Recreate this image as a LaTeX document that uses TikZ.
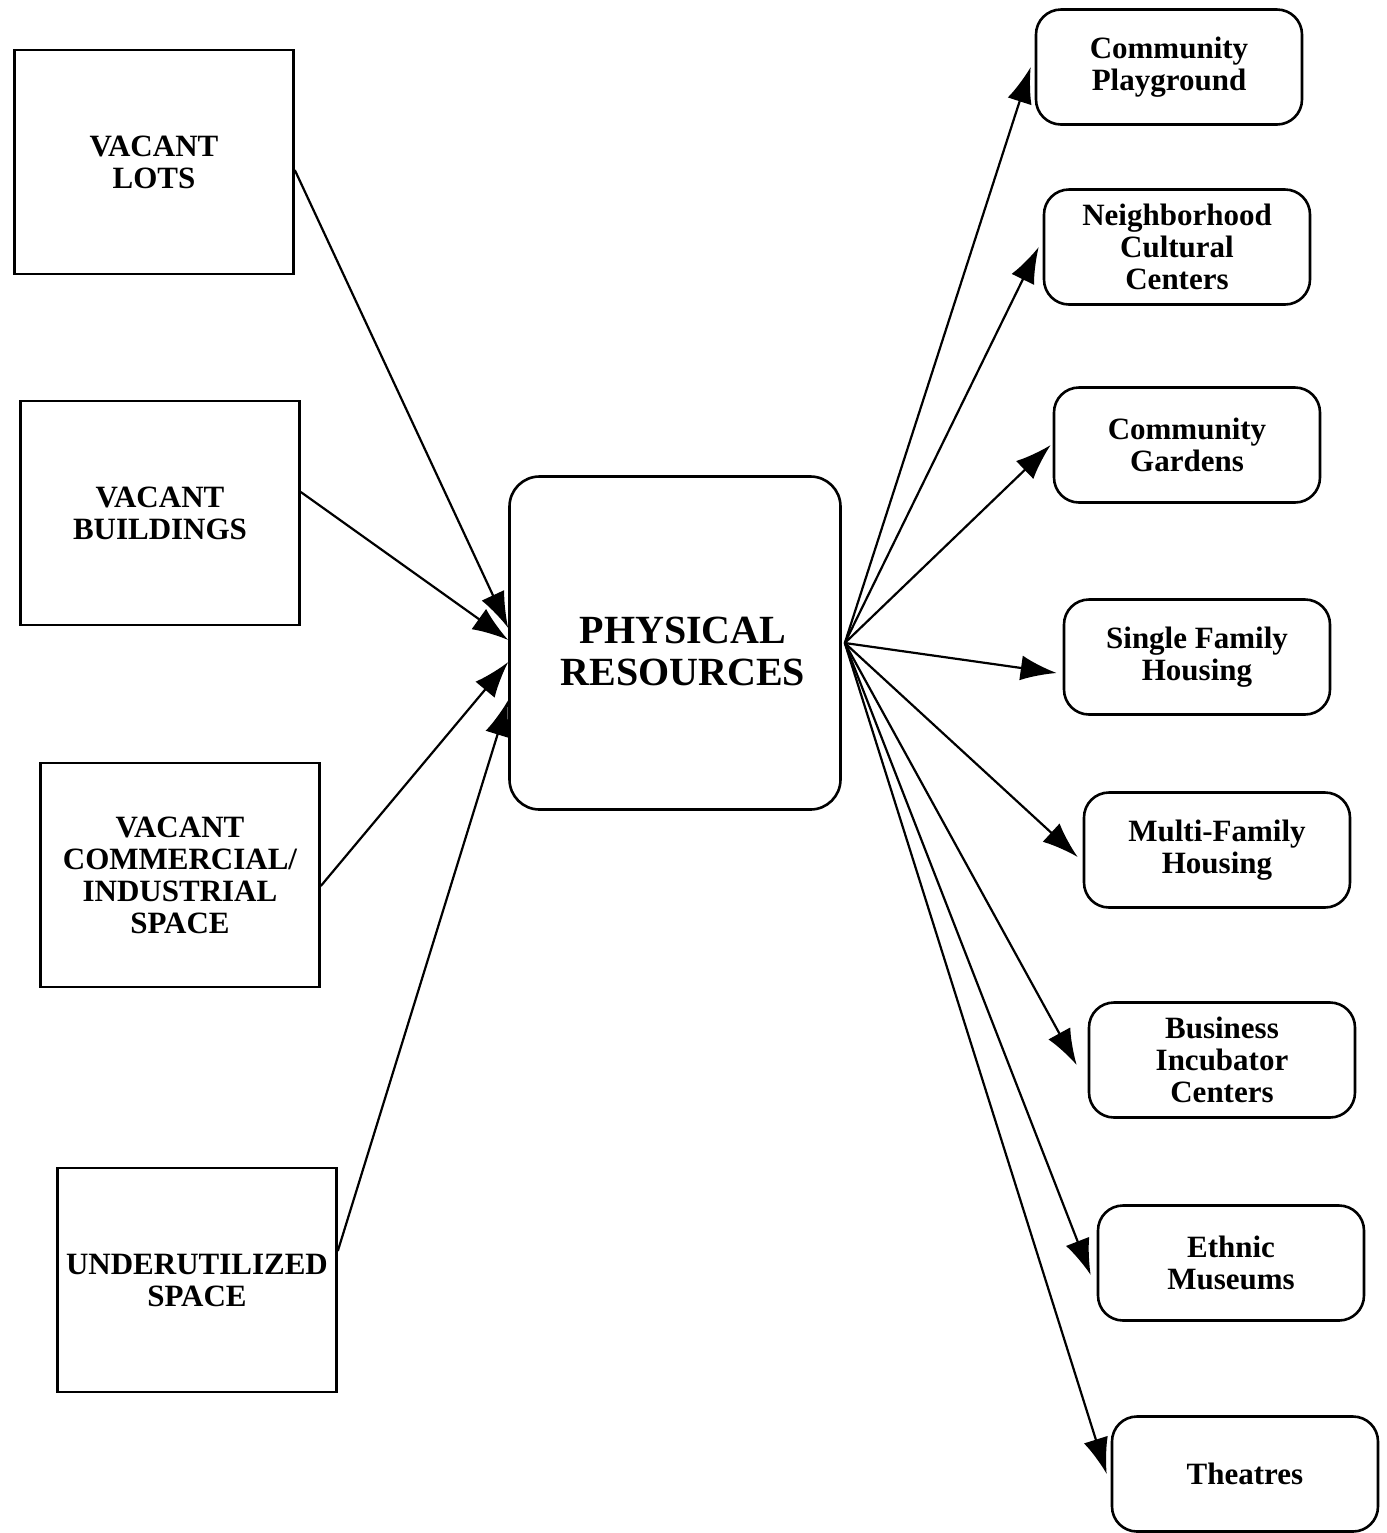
\documentclass[tikz,border=0pt]{standalone}
\usepackage{fontspec}
\setmainfont{Liberation Serif}
\usetikzlibrary{arrows.meta}
\tikzset{
  srcbox/.style={draw, line width=1.3pt, minimum width=139.5pt, minimum height=112pt,
    align=center, font=\bfseries\fontsize{15.5}{16}\selectfont, inner sep=2pt},
  hubbox/.style={draw, line width=1.3pt, rounded corners=15pt, minimum width=165.5pt,
    minimum height=166.5pt},
  hubtext/.style={align=center, font=\bfseries\fontsize{20}{21}\selectfont},
  usebox/.style={draw, line width=1.3pt, rounded corners=12.5pt, minimum width=133pt,
    minimum height=57.5pt, align=center, font=\bfseries\fontsize{15.5}{16}\selectfont},
  link/.style={line width=1.1pt, -{Latex[length=18pt,width=12.5pt]}}
}
\begin{document}
\begin{tikzpicture}[x=0.5pt,y=-0.5pt]
\useasboundingbox (0,0) rectangle (1387,1533);
% sources on the left
\node[srcbox] (lots) at (154,162) {VACANT\\LOTS};
\node[srcbox] (bldg) at (160,513) {VACANT\\BUILDINGS};
\node[srcbox] (comm) at (180,875) {VACANT\\COMMERCIAL/\\INDUSTRIAL\\SPACE};
\node[srcbox] (under) at (197,1280) {UNDERUTILIZED\\SPACE};
% hub
\node[hubbox] (hub) at (675,643) {};
\node[hubtext] (hublabel) at ([xshift=4pt,yshift=-4pt]hub.center) {PHYSICAL\\RESOURCES};
% uses on the right
\node[usebox] (play) at (1169,67) {Community\\Playground};
\node[usebox] (cult) at (1177,247) {Neighborhood\\Cultural\\Centers};
\node[usebox] (gard) at (1187,445) {Community\\Gardens};
\node[usebox] (single) at (1197,657) {Single Family\\Housing};
\node[usebox] (multi) at (1217,850) {Multi-Family\\Housing};
\node[usebox] (incub) at (1222,1060) {Business\\Incubator\\Centers};
\node[usebox] (museum) at (1231,1263) {Ethnic\\Museums};
\node[usebox] (theat) at (1245,1474) {Theatres};
% sources feed the hub
\draw[link] ([yshift=-4pt]lots.east) -- ([yshift=7.5pt]hub.west);
\draw[link] ([yshift=10.5pt]bldg.east) -- ([yshift=1.5pt]hub.west);
\draw[link] ([yshift=-5.5pt]comm.east) -- ([yshift=-9.5pt]hub.west);
\draw[link] ([yshift=14.5pt]under.east) -- ([yshift=-28.5pt]hub.west);
% hub feeds the uses
\coordinate (out) at ([xshift=1.5pt]hub.east);
\draw[link] (out) -- ([xshift=-2pt]play.west);
\draw[link] (out) -- ([xshift=-2pt]cult.west);
\draw[link] (out) -- ([xshift=-1pt]gard.west);
\draw[link] (out) -- ([xshift=-3pt,yshift=-8pt]single.west);
\draw[link] (out) -- ([xshift=-2.5pt,yshift=-3.5pt]multi.west);
\draw[link] (out) -- ([xshift=-5.5pt,yshift=-2.5pt]incub.west);
\draw[link] (out) -- ([xshift=-3pt,yshift=-6pt]museum.west);
\draw[link] (out) -- ([xshift=-2pt]theat.west);
\end{tikzpicture}
\end{document}
